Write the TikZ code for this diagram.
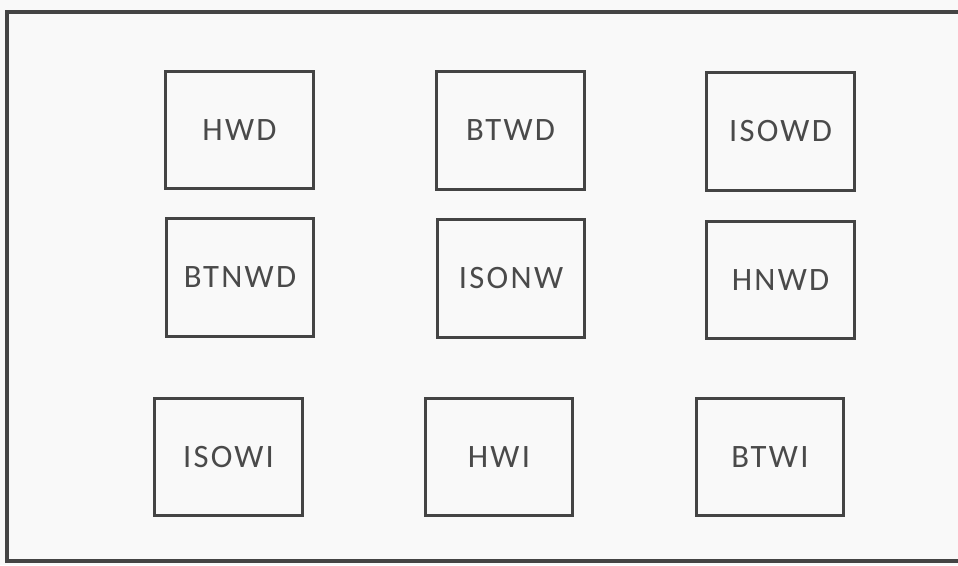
\documentclass[tikz,border=0pt]{standalone}
\usepackage{fontspec}
\setmainfont{Carlito}
\newfontfamily\boxfont[LetterSpace=7]{Carlito}
\definecolor{bg}{HTML}{F9F9F9}
\definecolor{frm}{HTML}{444444}
\definecolor{txt}{HTML}{4A4A4A}
\begin{document}
\begin{tikzpicture}[x=0.75pt,y=-0.75pt,
  cell/.style={draw=frm,line width=2.4pt,fill=bg,minimum width=110.5pt,minimum height=88pt,inner sep=0pt,
    font=\boxfont\fontsize{24.5pt}{28pt}\selectfont,text=txt}]
\useasboundingbox[fill=bg] (0,0) rectangle (958,565);
\draw[frm,line width=2.4pt] (962,12) -- (7,12) -- (7,561) -- (962,561);
\node[cell] (hwd)   at (239.5,130)   {HWD};
\node[cell] (btwd)  at (510.5,130.5) {BTWD};
\node[cell] (isowd) at (780.5,131.5) {ISOWD};
\node[cell] (btnwd) at (240,277.5)   {BTNWD};
\node[cell] (isonw) at (511,278.5)   {ISONW};
\node[cell] (hnwd)  at (780.5,280)   {HNWD};
\node[cell] (isowi) at (228.5,457)   {ISOWI};
\node[cell] (hwi)   at (499,457)     {HWI};
\node[cell] (btwi)  at (770,457)     {BTWI};
\end{tikzpicture}
\end{document}
